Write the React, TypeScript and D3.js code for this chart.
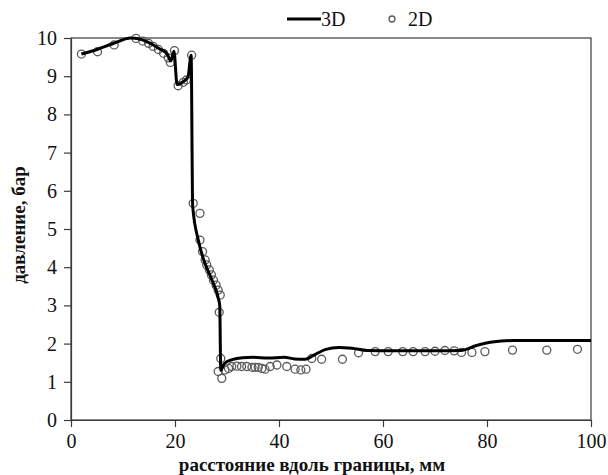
import React, { useEffect, useRef } from 'react';
import * as d3 from 'd3';

// 3D simulation: distance (mm) and pressure (bar)
const line3dX = [2, 5, 8, 11.5, 13, 15, 17, 18.5, 19.2, 19.8, 20.4, 21.5, 22.5, 23.1, 23.4, 24.5, 25.5, 27, 28.3, 28.6, 28.8, 29.5, 31, 33, 35, 38, 41, 43, 45, 47, 49, 51.5, 54, 57, 62, 70, 75, 78, 81, 85, 100];
const line3dY = [9.58, 9.7, 9.85, 10.0, 9.98, 9.88, 9.72, 9.58, 9.4, 9.65, 8.78, 8.85, 8.98, 9.55, 5.6, 4.7, 4.2, 3.7, 3.2, 3.0, 1.3, 1.48, 1.58, 1.63, 1.64, 1.62, 1.64, 1.6, 1.59, 1.72, 1.85, 1.9, 1.88, 1.82, 1.81, 1.81, 1.82, 1.95, 2.04, 2.08, 2.08];

// 2D simulation points
const pts2dX = [2, 5.1, 8.3, 12.5, 13.8, 14.9, 15.8, 16.8, 17.8, 18.7, 19.1, 19.9, 20.6, 21.6, 22.2, 23.2, 23.5, 24.8, 24.8, 25.3, 25.8, 26.1, 26.6, 27, 27.4, 27.9, 28.3, 28.7, 28.5, 28.8, 28.3, 29, 29.6, 30.3, 30.9, 31.9, 32.8, 33.8, 34.8, 35.4, 36, 36.7, 37.3, 38.3, 39.6, 41.5, 43.1, 44.2, 45.2, 46.3, 48.2, 52.2, 55.3, 58.5, 61, 63.8, 65.8, 68.1, 70, 71.9, 73.7, 75.1, 77.1, 79.6, 84.9, 91.5, 97.4];
const pts2dY = [9.58, 9.64, 9.82, 9.99, 9.92, 9.86, 9.78, 9.7, 9.6, 9.48, 9.36, 9.67, 8.75, 8.84, 8.9, 9.55, 5.67, 5.41, 4.71, 4.41, 4.19, 4.06, 3.93, 3.8, 3.66, 3.53, 3.4, 3.27, 2.82, 1.61, 1.27, 1.09, 1.31, 1.35, 1.4, 1.41, 1.4, 1.4, 1.38, 1.38, 1.38, 1.35, 1.33, 1.4, 1.44, 1.4, 1.33, 1.31, 1.33, 1.61, 1.59, 1.59, 1.76, 1.79, 1.79, 1.79, 1.79, 1.79, 1.8, 1.82, 1.81, 1.77, 1.77, 1.79, 1.83, 1.83, 1.85];

const xTicks = [0, 20, 40, 60, 80, 100];
const yTicks = [0, 1, 2, 3, 4, 5, 6, 7, 8, 9, 10];

const xTitle = 'расстояние вдоль границы, мм';
const yTitle = 'давление, бар';
const legendNames = ['3D', '2D'];

export default function App() {
  const svgRef = useRef<SVGSVGElement>(null);

  useEffect(() => {
    if (!svgRef.current) return;
    draw();
  }, []);

  const draw = () => {
    const svg = d3.select(svgRef.current);
    svg.selectAll('*').remove();

    const width = 608;
    const height = 475;
    const margin = { top: 38, right: 17, bottom: 55, left: 71 };
    const innerW = width - margin.left - margin.right;
    const innerH = height - margin.top - margin.bottom;
    const font = 'Liberation Serif';
    const axisColor = '#3a3a3a';

    svg.attr('width', width).attr('height', height).attr('font-family', font);
    svg.append('rect').attr('width', width).attr('height', height).attr('fill', '#fff');

    const g = svg.append('g').attr('transform', `translate(${margin.left},${margin.top})`);

    const x = d3.scaleLinear().domain([0, 100]).range([0, innerW]);
    const y = d3.scaleLinear().domain([0, 10]).range([innerH, 0]);

    // frame (top and right)
    g.append('rect')
      .attr('x', 0)
      .attr('y', 0)
      .attr('width', innerW)
      .attr('height', innerH)
      .attr('fill', 'none')
      .attr('stroke', axisColor)
      .attr('stroke-width', 1.2);

    // X axis
    const xAxis = g
      .append('g')
      .attr('transform', `translate(0,${innerH})`)
      .call(d3.axisBottom(x).tickValues(xTicks).tickSize(7).tickPadding(7).tickSizeOuter(0));
    xAxis.attr('font-family', font).attr('font-size', 20);
    xAxis.select('.domain').attr('stroke', axisColor).attr('stroke-width', 1.2);
    xAxis.selectAll('line').attr('stroke', axisColor).attr('stroke-width', 1.2);
    xAxis.selectAll('text').attr('fill', '#111');

    // Y axis
    const yAxis = g
      .append('g')
      .call(d3.axisLeft(y).tickValues(yTicks).tickSize(7).tickPadding(7).tickSizeOuter(0));
    yAxis.attr('font-family', font).attr('font-size', 20);
    yAxis.select('.domain').attr('stroke', axisColor).attr('stroke-width', 1.2);
    yAxis.selectAll('line').attr('stroke', axisColor).attr('stroke-width', 1.2);
    yAxis.selectAll('text').attr('fill', '#111');

    // 2D points
    const pts = pts2dX.map((v, i) => ({ x: v, y: pts2dY[i] }));
    g.selectAll('.pt')
      .data(pts)
      .enter()
      .append('circle')
      .attr('class', 'pt')
      .attr('cx', (d) => x(d.x))
      .attr('cy', (d) => y(d.y))
      .attr('r', 4)
      .attr('fill', 'none')
      .attr('stroke', '#5a5a5a')
      .attr('stroke-width', 1.3);

    // 3D line
    const lineData = line3dX.map((v, i) => ({ x: v, y: line3dY[i] }));
    const line = d3
      .line<{ x: number; y: number }>()
      .x((d) => x(d.x))
      .y((d) => y(d.y))
      .curve(d3.curveMonotoneX);
    g.append('path')
      .datum(lineData)
      .attr('fill', 'none')
      .attr('stroke', '#000')
      .attr('stroke-width', 3)
      .attr('stroke-linejoin', 'round')
      .attr('d', line);

    // Legend
    const leg = svg.append('g').attr('font-family', font).attr('font-size', 20).attr('fill', '#111');
    leg.append('line')
      .attr('x1', 287)
      .attr('x2', 321)
      .attr('y1', 19)
      .attr('y2', 19)
      .attr('stroke', '#000')
      .attr('stroke-width', 3);
    leg.append('text').attr('x', 321).attr('y', 26).text(legendNames[0]);
    leg.append('circle')
      .attr('cx', 392)
      .attr('cy', 19)
      .attr('r', 3)
      .attr('fill', 'none')
      .attr('stroke', '#5a5a5a')
      .attr('stroke-width', 1.3);
    leg.append('text').attr('x', 408).attr('y', 26).text(legendNames[1]);

    // Axis titles
    svg.append('text')
      .attr('text-anchor', 'middle')
      .attr('x', 312)
      .attr('y', 471)
      .attr('font-family', font)
      .attr('font-size', 19)
      .attr('font-weight', 'bold')
      .attr('fill', '#111')
      .text(xTitle);

    svg.append('text')
      .attr('text-anchor', 'middle')
      .attr('transform', 'rotate(-90)')
      .attr('x', -225)
      .attr('y', 25)
      .attr('font-family', font)
      .attr('font-size', 19)
      .attr('font-weight', 'bold')
      .attr('fill', '#111')
      .text(yTitle);
  };

  return (
    <div style={{ position: 'absolute', left: 0, top: 0 }}>
      <svg ref={svgRef} style={{ display: 'block' }}></svg>
    </div>
  );
}
